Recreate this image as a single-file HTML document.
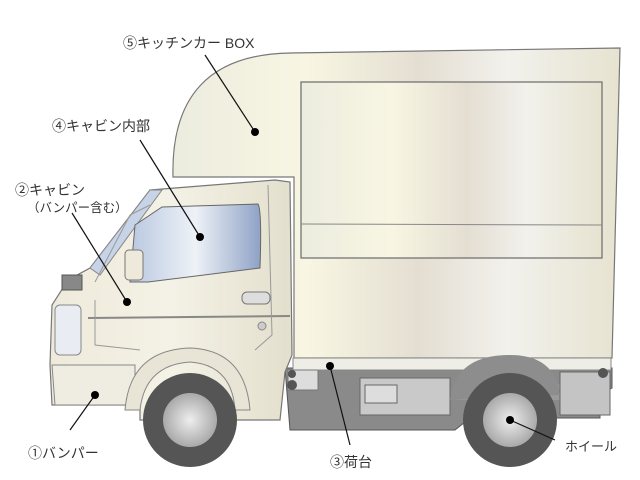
<!DOCTYPE html>
<html><head><meta charset="utf-8"><style>
html,body{margin:0;padding:0;background:#fff;width:640px;height:480px;overflow:hidden}
text{font-family:"Liberation Sans","Noto Sans CJK JP",sans-serif;fill:#333}
</style></head><body>
<svg width="640" height="480" viewBox="0 0 640 480" xmlns="http://www.w3.org/2000/svg">
<defs>
<linearGradient id="bx" x1="0" x2="1" y1="0" y2="0">
<stop offset="0" stop-color="#ececdf"/><stop offset="0.3" stop-color="#f8f6e2"/><stop offset="0.55" stop-color="#e4ded2"/><stop offset="0.75" stop-color="#f2f1ec"/><stop offset="1" stop-color="#e6e3d0"/>
</linearGradient>
<linearGradient id="gl" x1="0" x2="1"><stop offset="0" stop-color="#b9c8e0"/><stop offset="0.5" stop-color="#eef2f7"/><stop offset="1" stop-color="#8fa2c6"/></linearGradient>
<linearGradient id="cab" x1="0" x2="1"><stop offset="0" stop-color="#eeeadb"/><stop offset="0.5" stop-color="#f4f2e6"/><stop offset="1" stop-color="#e3dfcd"/></linearGradient>
<radialGradient id="hub"><stop offset="0" stop-color="#eee"/><stop offset="1" stop-color="#a9a9a9"/></radialGradient>
</defs>
<!-- chassis -->
<path d="M285 368 H612 V388 L600 395 V418 H470 L455 430 H290 Z" fill="#8a8a8a" stroke="#555"/>
<path d="M360 378 H450 V415 H360 Z" fill="#c9c9c9" stroke="#666"/>
<rect x="365" y="385" width="32" height="18" fill="#ddd" stroke="#666"/>
<path d="M455 385 Q510 360 560 385 L575 400 H455 Z" fill="#9a9a9a"/>
<path d="M560 372 H610 V415 H560 Z" fill="#c4c4c4" stroke="#666"/>
<!-- box -->
<path d="M173 177 Q170 55 290 53 L620 48 L612 358 H294 V177 Z" fill="url(#bx)" stroke="#777" stroke-width="1.2"/>
<rect x="301" y="82" width="301" height="176" fill="url(#bx)" stroke="#6a6a6a" stroke-width="1.2"/>
<line x1="301" y1="224" x2="602" y2="225" stroke="#888"/>
<rect x="293" y="358" width="318" height="12" fill="#eeeee6" stroke="#888"/>
<rect x="288" y="370" width="30" height="20" fill="#ddd" stroke="#777"/>
<circle cx="292" cy="374" r="4" fill="#555"/><circle cx="292" cy="385" r="5" fill="#555"/>
<circle cx="603" cy="373" r="5" fill="#555"/>
<!-- cab -->
<path d="M150 190 L275 180 L290 182 L292 355 L285 372 L280 420 H140 L140 405 H52 L50 365 L52 305 L68 280 L90 268 Z" fill="url(#cab)" stroke="#777" stroke-width="1.2"/>
<path d="M90 268 L150 190 L162 190 L100 275 Z" fill="#c7d3e6" stroke="#888"/>
<path d="M135 225 L162 207 L258 204 Q262 210 260 268 L148 282 L130 282 Z" fill="url(#gl)" stroke="#666"/>
<rect x="125" y="250" width="18" height="30" rx="4" fill="#eee9da" stroke="#777"/>
<line x1="88" y1="318" x2="290" y2="316" stroke="#888" stroke-width="2"/>
<path d="M95 300 L95 345 L140 350" fill="none" stroke="#999"/>
<path d="M95 282 L130 215 L150 205" fill="none" stroke="#999"/>
<path d="M268 185 L272 335 L255 350" fill="none" stroke="#999"/>
<rect x="242" y="292" width="28" height="12" rx="5" fill="#ddd" stroke="#777"/>
<circle cx="262" cy="326" r="4" fill="#ccc" stroke="#888"/>
<rect x="55" y="305" width="26" height="50" rx="5" fill="#e9ecf2" stroke="#888"/>
<path d="M62 275 H82 V290 H62 Z" fill="#888" stroke="#555"/>
<path d="M52 365 H135 V405 H55 Z" fill="#efede2" stroke="#888"/>
<!-- wheel arches -->
<path d="M125 410 Q130 350 190 348 Q245 350 250 410 L235 410 Q232 365 190 362 Q145 365 140 410 Z" fill="#e8e5d6" stroke="#888"/>
<path d="M450 400 Q455 355 510 355 Q555 355 560 395" fill="#8d8d8d"/>
<!-- wheels -->
<circle cx="190" cy="420" r="47" fill="#555"/><circle cx="190" cy="420" r="27" fill="url(#hub)"/>
<circle cx="510" cy="420" r="47" fill="#555"/><circle cx="510" cy="420" r="27" fill="url(#hub)"/>
<!-- leaders -->
<g stroke="#111" stroke-width="1.2">
<line x1="205" y1="55" x2="255" y2="132"/>
<line x1="140" y1="140" x2="200" y2="237"/>
<line x1="72" y1="213" x2="127" y2="302"/>
<line x1="70" y1="430" x2="95" y2="395"/>
<line x1="350" y1="445" x2="330" y2="366"/>
<line x1="555" y1="440" x2="510" y2="420"/>
</g>
<g fill="#000">
<circle cx="255" cy="132" r="4"/><circle cx="200" cy="237" r="4"/><circle cx="127" cy="302" r="4"/>
<circle cx="95" cy="395" r="4"/><circle cx="330" cy="366" r="4"/><circle cx="510" cy="420" r="4"/>
</g>
<text x="123" y="48" font-size="14">⑤キッチンカー BOX</text>
<text x="52" y="131" font-size="14">④キャビン内部</text>
<text x="15" y="195" font-size="14">②キャビン</text>
<text x="27" y="212" font-size="12.5">（バンパー含む）</text>
<text x="28" y="458" font-size="14">①バンパー</text>
<text x="330" y="467" font-size="14">③荷台</text>
<text x="565" y="451" font-size="13">ホイール</text>
</svg>
</body></html>
